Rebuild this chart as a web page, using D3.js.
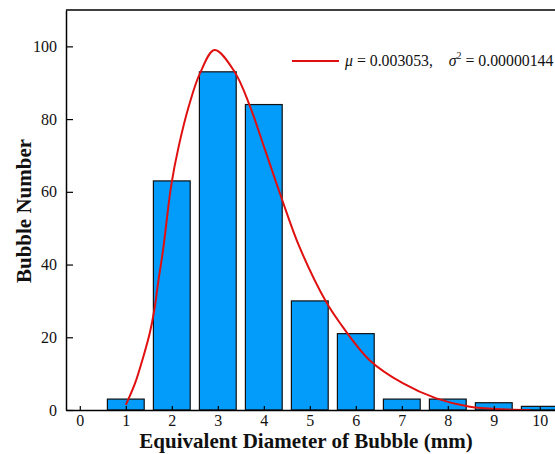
<!DOCTYPE html>
<html>
<head>
<meta charset="utf-8">
<script src="https://cdn.jsdelivr.net/npm/d3@7"></script>
<style>
  html, body { margin: 0; padding: 0; background: #fff; }
  svg { display: block; }
</style>
</head>
<body>
<svg id="chart" width="555" height="454"></svg>
<script>
// ---- data ----
const categories = [0, 1, 2, 3, 4, 5, 6, 7, 8, 9, 10];
const bubbleCounts = [0, 3, 63, 93, 84, 30, 21, 3, 3, 2, 1];
const xTicks = [0, 1, 2, 3, 4, 5, 6, 7, 8, 9, 10];
const yTicks = [0, 20, 40, 60, 80, 100];
// fitted curve
const fitX = [1.0, 1.2, 1.38, 1.52, 1.62, 1.70, 1.81, 1.99, 2.15, 2.38, 2.61, 2.93, 3.37, 3.70, 4.02, 4.38, 4.78, 5.36, 5.64, 6.30, 7.03, 7.75, 8.48, 9.2, 9.8];
const fitY = [1.4, 7.3, 14.6, 21.1, 27.5, 34.8, 44, 62, 72.5, 84, 92.5, 99, 92.9, 83.5, 71.8, 58.5, 44.7, 29.6, 24.2, 13.7, 7.3, 3.2, 0.9, 0.2, 0];
const legendMu = "0.003053";
const legendSigma2 = "0.00000144";

// ---- layout ----
const svg = d3.select("#chart");
const mLeft = 66, mTop = 10, mBottom = 410;
const x = d3.scaleLinear().domain([-0.3, 10.5]).range([mLeft, mLeft + 10.8 * 46]);
const y = d3.scaleLinear().domain([0, 110]).range([mBottom, mTop]);
const serif = "'Liberation Serif', 'Times New Roman', serif";

svg.append("defs").append("clipPath").attr("id", "plotclip")
  .append("rect").attr("x", mLeft).attr("y", mTop).attr("width", 555 - mLeft).attr("height", mBottom - mTop);

const plot = svg.append("g").attr("clip-path", "url(#plotclip)");

// bars
const barW = 0.8;
plot.selectAll("rect.bar").data(categories.map((c, i) => ({c, v: bubbleCounts[i]})).filter(d => d.v > 0))
  .enter().append("rect")
  .attr("class", "bar")
  .attr("x", d => x(d.c - barW / 2))
  .attr("width", d => x(d.c + barW / 2) - x(d.c - barW / 2))
  .attr("y", d => y(d.v))
  .attr("height", d => y(0) - y(d.v))
  .attr("fill", "#049cfa")
  .attr("stroke", "#111")
  .attr("stroke-width", 1.2);

// curve
const line = d3.line().x(d => x(d[0])).y(d => y(d[1])).curve(d3.curveCatmullRom.alpha(0.5));
plot.append("path")
  .datum(fitX.map((v, i) => [v, fitY[i]]))
  .attr("d", line)
  .attr("fill", "none")
  .attr("stroke", "#e01010")
  .attr("stroke-width", 2);

// axes
const yAxis = d3.axisLeft(y).tickValues(yTicks).tickSizeInner(-7).tickSizeOuter(0).tickPadding(9);
const gy = svg.append("g").attr("transform", `translate(${mLeft},0)`).call(yAxis);
const xAxis = d3.axisBottom(x).tickValues(xTicks).tickSizeInner(-4).tickSizeOuter(0).tickPadding(5);
const gx = svg.append("g").attr("transform", `translate(0,${mBottom})`).call(xAxis);
[gx, gy].forEach(g => {
  g.select(".domain").attr("stroke", "#000").attr("stroke-width", 1.5);
  g.selectAll(".tick line").attr("stroke", "#000").attr("stroke-width", 1.2);
  g.selectAll(".tick text").attr("font-family", serif).attr("font-size", 16).attr("fill", "#111");
});
// top frame line
svg.append("line").attr("x1", mLeft).attr("x2", 555).attr("y1", mTop).attr("y2", mTop)
  .attr("stroke", "#000").attr("stroke-width", 1.5);

// axis titles
svg.append("text").attr("x", 306).attr("y", 448).attr("text-anchor", "middle")
  .attr("font-family", serif).attr("font-weight", "bold").attr("font-size", 21).attr("fill", "#111")
  .text("Equivalent Diameter of Bubble (mm)");
svg.append("text").attr("transform", `translate(31,211) rotate(-90)`).attr("text-anchor", "middle")
  .attr("font-family", serif).attr("font-weight", "bold").attr("font-size", 21).attr("fill", "#111")
  .text("Bubble Number");

// legend
svg.append("line").attr("x1", 292).attr("x2", 339).attr("y1", 61).attr("y2", 61)
  .attr("stroke", "#e01010").attr("stroke-width", 2);
const lt = svg.append("text").attr("x", 345).attr("y", 66)
  .attr("font-family", serif).attr("font-size", 15.8).attr("fill", "#111");
lt.append("tspan").attr("font-style", "italic").text("μ");
lt.append("tspan").text(" = " + legendMu + ",\u2003");
lt.append("tspan").attr("font-style", "italic").text("σ");
lt.append("tspan").attr("font-size", 10).attr("dy", -7).text("2");
lt.append("tspan").attr("dy", 7).text(" = " + legendSigma2);
</script>
</body>
</html>
